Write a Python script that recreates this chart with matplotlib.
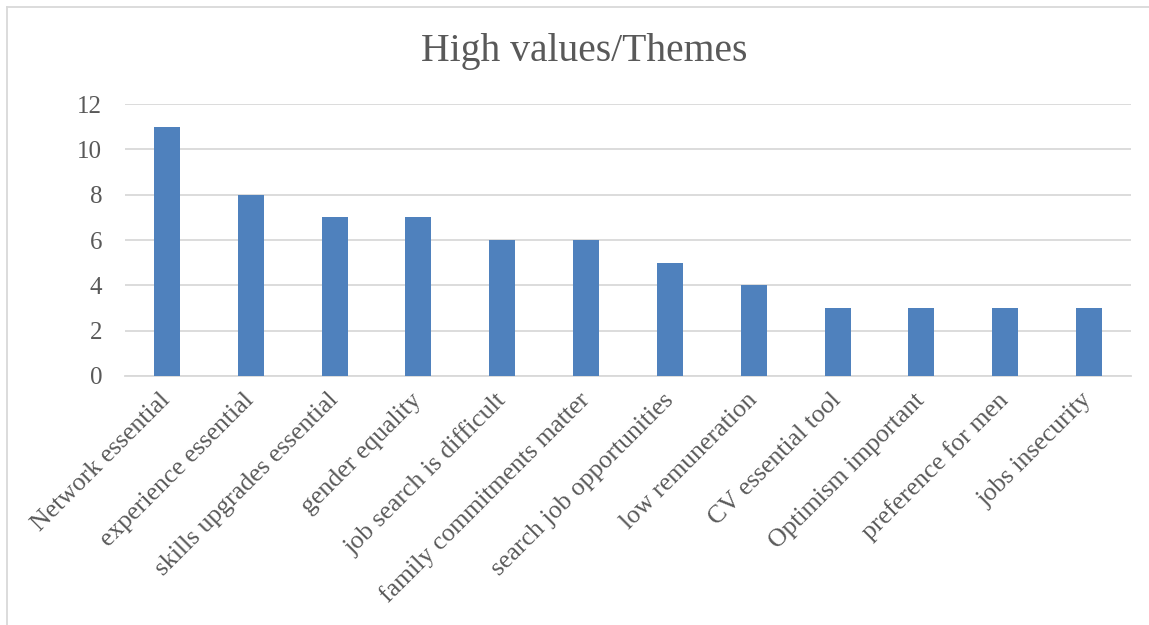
import matplotlib
matplotlib.use("Agg")
import matplotlib.pyplot as plt
from matplotlib.lines import Line2D

categories = ["Network essential", "experience essential", "skills upgrades essential",
              "gender equality", "job search is difficult", "family commitments matter",
              "search job opportunities", "low remuneration", "CV essential tool",
              "Optimism important", "preference for men", "jobs insecurity"]
values = [11, 8, 7, 7, 6, 6, 5, 4, 3, 3, 3, 3]
yticks = [0, 2, 4, 6, 8, 10, 12]
title = "High values/Themes"

plt.rcParams['font.family'] = ['Liberation Serif', 'DejaVu Serif']
fig = plt.figure(figsize=(11.49, 6.25), dpi=100)
ax = fig.add_axes([125/1149, 1-376/625, (1131-125)/1149, (376-104)/625])

x = list(range(len(categories)))
ax.bar(x, values, width=0.31, color='#4f81bd', zorder=3)
ax.set_xlim(-0.5, len(categories)-0.5)
ax.set_ylim(0, 12)
ax.set_yticks(yticks)
ax.set_yticklabels([str(v) for v in yticks], fontsize=18, color='#595959')
ax.yaxis.grid(True, color='#d9d9d9', linewidth=1.3, zorder=0)
for s in ['top', 'right', 'left']:
    ax.spines[s].set_visible(False)
ax.spines['bottom'].set_color('#d9d9d9')
ax.spines['bottom'].set_linewidth(1.3)
ax.tick_params(axis='y', length=0, pad=16.5)
ax.set_xticks(x)
ax.set_xticklabels(categories, rotation=45, ha='right', va='center', rotation_mode='anchor',
                   fontsize=18.5, color='#595959')
ax.tick_params(axis='x', length=0, pad=15)

fig.text(584/1149, 1-52/625, title, ha='center', va='center', fontsize=28.5, color='#595959')

fig.add_artist(Line2D([7/1149, 7/1149], [0, 1-7/625], color='#d9d9d9', linewidth=1.3, transform=fig.transFigure))
fig.add_artist(Line2D([7/1149, 1], [1-7/625, 1-7/625], color='#d9d9d9', linewidth=1.3, transform=fig.transFigure))

fig.savefig('out.png', dpi=100, facecolor='white')
